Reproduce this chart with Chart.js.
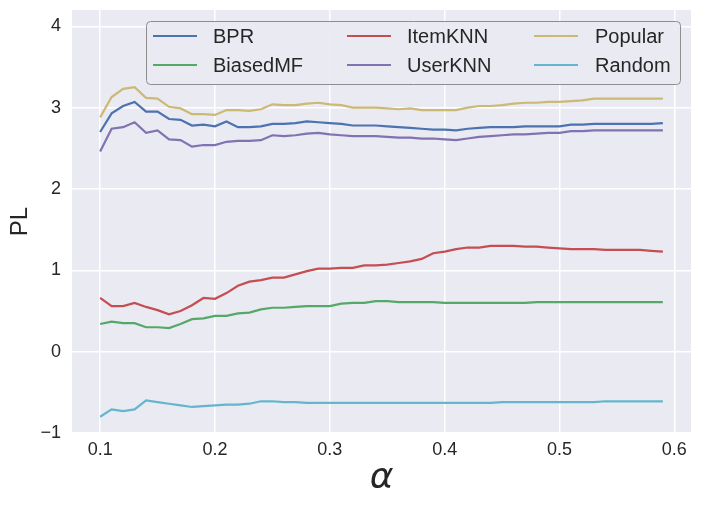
<!DOCTYPE html>
<html>
<head>
<meta charset="utf-8">
<script src="https://cdn.jsdelivr.net/npm/chart.js@4/dist/chart.umd.min.js"></script>
<style>
  html, body { margin: 0; padding: 0; background: #fff; }
  #wrap { width: 702px; height: 505px; }
</style>
</head>
<body>
<div id="wrap"><canvas id="pl-chart" width="702" height="505"></canvas></div>
<script>
/* values */
var alphas = [0.10, 0.11, 0.12, 0.13, 0.14, 0.15, 0.16, 0.17, 0.18, 0.19,
              0.20, 0.21, 0.22, 0.23, 0.24, 0.25, 0.26, 0.27, 0.28, 0.29,
              0.30, 0.31, 0.32, 0.33, 0.34, 0.35, 0.36, 0.37, 0.38, 0.39,
              0.40, 0.41, 0.42, 0.43, 0.44, 0.45, 0.46, 0.47, 0.48, 0.49,
              0.50, 0.51, 0.52, 0.53, 0.54, 0.55, 0.56, 0.57, 0.58, 0.59];

var bpr = [2.70, 2.93, 3.02, 3.07, 2.95, 2.95, 2.86, 2.85, 2.78, 2.79,
           2.77, 2.83, 2.76, 2.76, 2.77, 2.80, 2.80, 2.81, 2.83, 2.82,
           2.81, 2.80, 2.78, 2.78, 2.78, 2.77, 2.76, 2.75, 2.74, 2.73,
           2.73, 2.72, 2.74, 2.75, 2.76, 2.76, 2.76, 2.77, 2.77, 2.77,
           2.77, 2.79, 2.79, 2.80, 2.80, 2.80, 2.80, 2.80, 2.80, 2.81];

var biasedMF = [0.34, 0.37, 0.35, 0.35, 0.30, 0.30, 0.29, 0.34, 0.40, 0.41,
                0.44, 0.44, 0.47, 0.48, 0.52, 0.54, 0.54, 0.55, 0.56, 0.56,
                0.56, 0.59, 0.60, 0.60, 0.62, 0.62, 0.61, 0.61, 0.61, 0.61,
                0.60, 0.60, 0.60, 0.60, 0.60, 0.60, 0.60, 0.60, 0.61, 0.61,
                0.61, 0.61, 0.61, 0.61, 0.61, 0.61, 0.61, 0.61, 0.61, 0.61];

var itemKNN = [0.66, 0.56, 0.56, 0.60, 0.55, 0.51, 0.46, 0.50, 0.57, 0.66,
               0.65, 0.72, 0.81, 0.86, 0.88, 0.91, 0.91, 0.95, 0.99, 1.02,
               1.02, 1.03, 1.03, 1.06, 1.06, 1.07, 1.09, 1.11, 1.14, 1.21,
               1.23, 1.26, 1.28, 1.28, 1.30, 1.30, 1.30, 1.29, 1.29, 1.28,
               1.27, 1.26, 1.26, 1.26, 1.25, 1.25, 1.25, 1.25, 1.24, 1.23];

var userKNN = [2.46, 2.74, 2.76, 2.82, 2.69, 2.72, 2.61, 2.60, 2.52, 2.54,
               2.54, 2.58, 2.59, 2.59, 2.60, 2.66, 2.65, 2.66, 2.68, 2.69,
               2.67, 2.66, 2.65, 2.65, 2.65, 2.64, 2.63, 2.63, 2.62, 2.62,
               2.61, 2.60, 2.62, 2.64, 2.65, 2.66, 2.67, 2.67, 2.68, 2.69,
               2.69, 2.71, 2.71, 2.72, 2.72, 2.72, 2.72, 2.72, 2.72, 2.72];

var popular = [2.88, 3.13, 3.23, 3.25, 3.12, 3.11, 3.01, 2.99, 2.92, 2.92,
               2.91, 2.97, 2.97, 2.96, 2.98, 3.04, 3.03, 3.03, 3.05, 3.06,
               3.04, 3.03, 3.00, 3.00, 3.00, 2.99, 2.98, 2.99, 2.97, 2.97,
               2.97, 2.97, 3.00, 3.02, 3.02, 3.03, 3.05, 3.06, 3.06, 3.07,
               3.07, 3.08, 3.09, 3.11, 3.11, 3.11, 3.11, 3.11, 3.11, 3.11];

var random = [-0.80, -0.71, -0.73, -0.71, -0.60, -0.62, -0.64, -0.66, -0.68, -0.67,
              -0.66, -0.65, -0.65, -0.64, -0.61, -0.61, -0.62, -0.62, -0.63, -0.63,
              -0.63, -0.63, -0.63, -0.63, -0.63, -0.63, -0.63, -0.63, -0.63, -0.63,
              -0.63, -0.63, -0.63, -0.63, -0.63, -0.62, -0.62, -0.62, -0.62, -0.62,
              -0.62, -0.62, -0.62, -0.62, -0.61, -0.61, -0.61, -0.61, -0.61, -0.61];

var seriesNames = ['BPR', 'BiasedMF', 'ItemKNN', 'UserKNN', 'Popular', 'Random'];
var seriesValues = [bpr, biasedMF, itemKNN, userKNN, popular, random];
var seriesColors = ['#4C72B0', '#55A868', '#C44E52', '#8172B2', '#CCB974', '#64B5CD'];

var xTicks = [0.1, 0.2, 0.3, 0.4, 0.5, 0.6];
var yTicks = [-1, 0, 1, 2, 3, 4];

(function (root) {
    'use strict';

    var TEXT = '#262626';
    var FONT = '"Liberation Sans", Arial, sans-serif';

    function toPoints(values) {
        return values.map(function (v, i) { return { x: alphas[i], y: v }; });
    }

    // seaborn-like panel background
    var panelBg = {
        id: 'panelBg',
        beforeDraw: function (chart) {
            var a = chart.chartArea, ctx = chart.ctx;
            ctx.save();
            ctx.fillStyle = '#EAEAF2';
            ctx.fillRect(a.left, a.top, a.right - a.left, a.bottom - a.top);
            ctx.restore();
        }
    };

    // matplotlib style legend: 3 columns, filled column by column
    var boxLegend = {
        id: 'boxLegend',
        afterDraw: function (chart) {
            var ctx = chart.ctx, ds = chart.data.datasets;
            var bx = 146.5, by = 21.5, bw = 534, bh = 63, r = 4;
            var handleX = [153, 347, 534], textX = [213, 407, 595], rowY = [36, 65];
            ctx.save();
            ctx.beginPath();
            ctx.moveTo(bx + r, by);
            ctx.lineTo(bx + bw - r, by);
            ctx.arcTo(bx + bw, by, bx + bw, by + r, r);
            ctx.lineTo(bx + bw, by + bh - r);
            ctx.arcTo(bx + bw, by + bh, bx + bw - r, by + bh, r);
            ctx.lineTo(bx + r, by + bh);
            ctx.arcTo(bx, by + bh, bx, by + bh - r, r);
            ctx.lineTo(bx, by + r);
            ctx.arcTo(bx, by, bx + r, by, r);
            ctx.closePath();
            ctx.fillStyle = 'rgba(234,234,242,0.95)';
            ctx.fill();
            ctx.strokeStyle = '#8e8e8e';
            ctx.lineWidth = 1;
            ctx.stroke();

            ctx.font = '20px ' + FONT;
            ctx.textBaseline = 'middle';
            ctx.textAlign = 'left';
            ds.forEach(function (d, i) {
                var col = Math.floor(i / 2), row = i % 2;
                ctx.beginPath();
                ctx.moveTo(handleX[col], rowY[row]);
                ctx.lineTo(handleX[col] + 44, rowY[row]);
                ctx.strokeStyle = d.borderColor;
                ctx.lineWidth = 2.2;
                ctx.stroke();
                ctx.fillStyle = TEXT;
                ctx.fillText(d.label, textX[col], rowY[row] + 1);
            });
            ctx.restore();
        }
    };

    function initChart() {
        var el = document.getElementById('pl-chart');
        if (!el || typeof Chart === 'undefined') { return null; }
        return new Chart(el, {
            type: 'line',
            data: {
                datasets: seriesNames.map(function (name, i) {
                    return { label: name, data: toPoints(seriesValues[i]), borderColor: seriesColors[i],
                             backgroundColor: seriesColors[i], borderWidth: 2.2, pointRadius: 0, tension: 0, fill: false };
                })
            },
            options: {
                responsive: false,
                animation: false,
                layout: { padding: { left: 0, right: 11, top: 10, bottom: 0 } },
                plugins: { legend: { display: false }, tooltip: { enabled: false } },
                scales: {
                    x: {
                        type: 'linear', min: 0.0755, max: 0.6145,
                        afterFit: function (s) { s.height = 72; s.paddingLeft = 0; s.paddingRight = 0; },
                        afterBuildTicks: function (s) { s.ticks = xTicks.map(function (v) { return { value: v }; }); },
                        grid: { color: '#ffffff', lineWidth: 1.5, drawTicks: false },
                        border: { display: false },
                        ticks: { padding: 6, color: TEXT, font: { family: FONT, size: 18 },
                                 callback: function (v) { return v.toFixed(1); } },
                        title: { display: true, text: '\u03b1', color: TEXT, padding: { top: 0, bottom: 5 },
                                 font: { family: '"DejaVu Sans", sans-serif', size: 36, style: 'italic' } }
                    },
                    y: {
                        min: -1, max: 4.2,
                        afterFit: function (s) { s.width = 72; s.paddingTop = 0; s.paddingBottom = 0; },
                        afterBuildTicks: function (s) { s.ticks = yTicks.map(function (v) { return { value: v }; }); },
                        grid: { color: '#ffffff', lineWidth: 1.5, drawTicks: false },
                        border: { display: false },
                        ticks: { padding: 11, color: TEXT, font: { family: FONT, size: 18 },
                                 callback: function (v) { return v < 0 ? '\u2212' + Math.abs(v) : String(v); } },
                        title: { display: true, text: 'PL', color: TEXT, padding: { top: 6, bottom: 0 },
                                 font: { family: FONT, size: 24 } }
                    }
                }
            },
            plugins: [panelBg, boxLegend]
        });
    }

    root.plChart = initChart();
})(window);
</script>
</body>
</html>
